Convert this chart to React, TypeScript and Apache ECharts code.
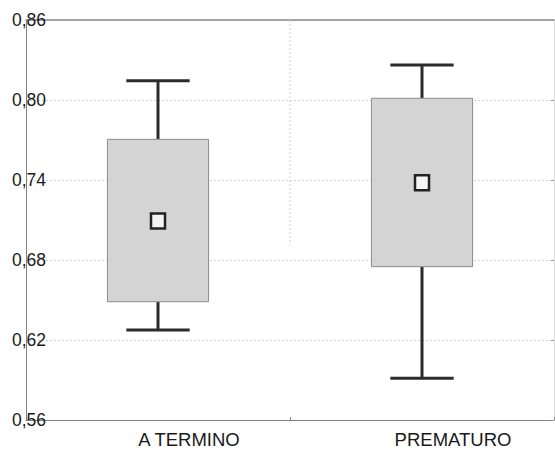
import React, { useEffect, useRef } from "react";
import * as echarts from "echarts";

const categories = ["A TERMINO", "PREMATURO"];
const whiskerLow = [0.6275, 0.5913];
const boxLow = [0.6487, 0.675];
const boxHigh = [0.7705, 0.8013];
const whiskerHigh = [0.8145, 0.8263];
const means = [0.7092, 0.738];
const yTicks = [0.56, 0.62, 0.68, 0.74, 0.8, 0.86];
const separatorEnd = 0.6913;

const FONT = "'Liberation Sans', Arial, sans-serif";

export default function App() {
  const ref = useRef<HTMLDivElement>(null);
  useEffect(() => {
    if (!ref.current) return;
    const chart = echarts.init(ref.current, undefined, { renderer: "svg" });
    const data = categories.map((_, i) => [i, whiskerLow[i], boxLow[i], boxHigh[i], whiskerHigh[i], means[i]]);
    const fmt = (v: number) => v.toFixed(2).replace(".", ",");
    chart.setOption({
      animation: false,
      grid: { left: 26, right: 1, top: 20, bottom: 29, containLabel: false },
      xAxis: [
        {
          type: "category",
          data: categories,
          boundaryGap: true,
          axisLine: { lineStyle: { color: "#808080", width: 1 } },
          axisTick: { show: true, inside: true, length: 3, lineStyle: { color: "#808080" } },
          axisLabel: {
            color: "#1a1a1a",
            fontSize: 18.5,
            fontFamily: FONT,
            margin: 10,
            padding: [0, 0, 0, 62],
          },
          splitLine: { show: false },
        },
        {
          type: "category",
          data: categories,
          position: "top",
          axisLine: { lineStyle: { color: "#8a8a8a", width: 1.5 } },
          axisTick: { show: false },
          axisLabel: { show: false },
        },
      ],
      yAxis: [
        {
          type: "value",
          min: yTicks[0],
          max: yTicks[yTicks.length - 1],
          interval: 0.06,
          axisLine: { show: true, lineStyle: { color: "#808080", width: 1 } },
          axisTick: { show: false },
          axisLabel: {
            color: "#1a1a1a",
            fontSize: 17.5,
            fontFamily: FONT,
            align: "left",
            margin: 14,
            formatter: (v: number) => fmt(v),
          },
          splitLine: { show: true, lineStyle: { color: "#d0d0d0", type: [2, 2], width: 1 } },
        },
        {
          type: "value",
          position: "right",
          min: yTicks[0],
          max: yTicks[yTicks.length - 1],
          interval: 0.06,
          axisLine: { show: true, lineStyle: { color: "#dddddd", width: 1 } },
          axisTick: { show: true, inside: true, length: 3, lineStyle: { color: "#999" } },
          axisLabel: { show: false },
          splitLine: { show: false },
        },
      ],
      series: [
        {
          type: "custom",
          xAxisIndex: 0,
          yAxisIndex: 0,
          data,
          renderItem: (params: any, api: any) => {
            const idx = api.value(0);
            const wl = api.coord([idx, api.value(1)]);
            const bl = api.coord([idx, api.value(2)]);
            const bh = api.coord([idx, api.value(3)]);
            const wh = api.coord([idx, api.value(4)]);
            const mn = api.coord([idx, api.value(5)]);
            const bandW = api.size([1, 0])[0];
            const boxW = bandW * 0.383;
            const capW = bandW * 0.24;
            const x = wl[0];
            const lineStyle = { stroke: "#2b2b2b", lineWidth: 3 };
            const children: any[] = [];
            if (params.dataIndex === 0) {
              const c0 = api.coord([0, yTicks[yTicks.length - 1]]);
              const c1 = api.coord([1, separatorEnd]);
              const sx = (c0[0] + c1[0]) / 2;
              children.push({
                type: "line",
                shape: { x1: sx, y1: c0[1], x2: sx, y2: c1[1] },
                style: { stroke: "#cfcfcf", lineWidth: 1, lineDash: [2, 2] },
              });
            }
            children.push(
              { type: "line", shape: { x1: x, y1: wh[1], x2: x, y2: bh[1] }, style: lineStyle },
              { type: "line", shape: { x1: x, y1: bl[1], x2: x, y2: wl[1] }, style: lineStyle },
              { type: "line", shape: { x1: x - capW / 2, y1: wh[1], x2: x + capW / 2, y2: wh[1] }, style: lineStyle },
              { type: "line", shape: { x1: x - capW / 2, y1: wl[1], x2: x + capW / 2, y2: wl[1] }, style: lineStyle },
              {
                type: "rect",
                shape: { x: x - boxW / 2, y: bh[1], width: boxW, height: bl[1] - bh[1] },
                style: { fill: "#d4d4d4", stroke: "#8c8c8c", lineWidth: 1 },
              },
              {
                type: "rect",
                shape: { x: mn[0] - 7, y: mn[1] - 7.5, width: 14, height: 15 },
                style: { fill: "#f4f4f4", stroke: "#222", lineWidth: 2.5 },
              }
            );
            return { type: "group", children };
          },
        },
      ],
    });
    return () => chart.dispose();
  }, []);
  return <div ref={ref} style={{ width: 555, height: 449, position: "absolute", left: 0, top: 0 }} />;
}
